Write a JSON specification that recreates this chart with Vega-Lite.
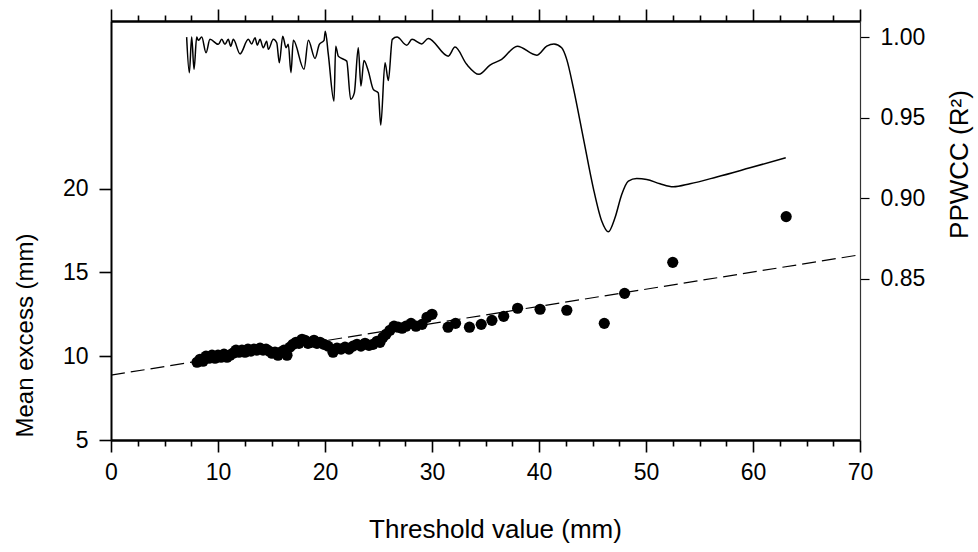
{
  "$schema": "https://vega.github.io/schema/vega-lite/v6.json",
  "width": 749,
  "height": 419,
  "autosize": "none",
  "padding": {"left": 111, "top": 21, "right": 118, "bottom": 112},
  "background": "white",
  "config": {
    "view": {"stroke": null},
    "font": "Liberation Sans",
    "axis": {
      "labelFont": "Liberation Sans",
      "titleFont": "Liberation Sans",
      "labelFontSize": 23,
      "titleFontSize": 26,
      "titleFontWeight": "normal",
      "labelColor": "black",
      "titleColor": "black",
      "domainColor": "black",
      "domainWidth": 2,
      "tickColor": "black",
      "tickWidth": 1.6,
      "grid": false
    }
  },
  "datasets": {
    "excess": [
      {"t": 8.04, "me": 9.64}, {"t": 8.32, "me": 9.82}, {"t": 8.6, "me": 9.7}, {"t": 8.88, "me": 10.0},
      {"t": 9.16, "me": 9.88}, {"t": 9.44, "me": 10.06}, {"t": 9.72, "me": 9.88}, {"t": 10.0, "me": 10.06},
      {"t": 10.28, "me": 9.94}, {"t": 10.56, "me": 10.12}, {"t": 10.84, "me": 9.94}, {"t": 11.12, "me": 10.06},
      {"t": 11.4, "me": 10.18}, {"t": 11.68, "me": 10.36}, {"t": 11.96, "me": 10.24}, {"t": 12.24, "me": 10.36},
      {"t": 12.52, "me": 10.24}, {"t": 12.8, "me": 10.42}, {"t": 13.08, "me": 10.3}, {"t": 13.36, "me": 10.42},
      {"t": 13.64, "me": 10.36}, {"t": 13.93, "me": 10.48}, {"t": 14.21, "me": 10.36}, {"t": 14.49, "me": 10.42},
      {"t": 14.77, "me": 10.3}, {"t": 15.05, "me": 10.18}, {"t": 15.33, "me": 10.24}, {"t": 15.61, "me": 10.06},
      {"t": 15.89, "me": 10.24}, {"t": 16.17, "me": 10.36}, {"t": 16.45, "me": 10.06}, {"t": 16.73, "me": 10.54},
      {"t": 17.01, "me": 10.71}, {"t": 17.29, "me": 10.83}, {"t": 17.57, "me": 10.77}, {"t": 17.85, "me": 11.01},
      {"t": 18.13, "me": 10.95}, {"t": 18.41, "me": 10.77}, {"t": 18.69, "me": 10.83}, {"t": 18.97, "me": 10.95},
      {"t": 19.25, "me": 10.77}, {"t": 19.53, "me": 10.83}, {"t": 19.91, "me": 10.71}, {"t": 20.28, "me": 10.6},
      {"t": 20.75, "me": 10.24}, {"t": 21.12, "me": 10.48}, {"t": 21.5, "me": 10.42}, {"t": 21.87, "me": 10.54},
      {"t": 22.24, "me": 10.42}, {"t": 22.62, "me": 10.6}, {"t": 22.99, "me": 10.71}, {"t": 23.36, "me": 10.6},
      {"t": 23.74, "me": 10.77}, {"t": 24.11, "me": 10.65}, {"t": 24.49, "me": 10.71}, {"t": 24.86, "me": 10.89},
      {"t": 25.14, "me": 10.83}, {"t": 25.42, "me": 11.13}, {"t": 25.7, "me": 11.31}, {"t": 26.07, "me": 11.55},
      {"t": 26.45, "me": 11.79}, {"t": 26.82, "me": 11.73}, {"t": 27.2, "me": 11.67}, {"t": 27.57, "me": 11.79},
      {"t": 28.04, "me": 11.96}, {"t": 28.5, "me": 11.79}, {"t": 29.07, "me": 11.9}, {"t": 29.53, "me": 12.32},
      {"t": 30.0, "me": 12.5}, {"t": 31.5, "me": 11.73}, {"t": 32.2, "me": 11.96}, {"t": 33.5, "me": 11.73},
      {"t": 34.6, "me": 11.9}, {"t": 35.6, "me": 12.14}, {"t": 36.7, "me": 12.38}, {"t": 38.0, "me": 12.86},
      {"t": 40.1, "me": 12.8}, {"t": 42.6, "me": 12.74}, {"t": 46.1, "me": 11.96}, {"t": 48.0, "me": 13.75},
      {"t": 52.5, "me": 15.6}, {"t": 63.1, "me": 18.33}
    ],
    "fit": [
      {"t": 0, "me": 8.87}, {"t": 70, "me": 16.05}
    ],
    "ppwcc": [
      {"t": 7.07, "r": 1.0}, {"t": 7.32, "r": 0.9779}, {"t": 7.54, "r": 1.0}, {"t": 7.76, "r": 0.98},
      {"t": 8.01, "r": 1.0}, {"t": 8.16, "r": 0.998}, {"t": 8.48, "r": 1.0}, {"t": 8.88, "r": 0.9903},
      {"t": 9.25, "r": 0.9986}, {"t": 10.03, "r": 0.9955}, {"t": 10.35, "r": 0.9986}, {"t": 10.65, "r": 0.9955},
      {"t": 10.96, "r": 0.9986}, {"t": 11.19, "r": 0.9944}, {"t": 11.43, "r": 0.9986}, {"t": 12.06, "r": 0.9896},
      {"t": 12.83, "r": 0.9986}, {"t": 13.15, "r": 0.9958}, {"t": 13.46, "r": 0.9996}, {"t": 13.67, "r": 0.995},
      {"t": 13.93, "r": 0.9986}, {"t": 14.23, "r": 0.9934}, {"t": 14.55, "r": 0.9975}, {"t": 14.7, "r": 0.9924},
      {"t": 15.17, "r": 0.9986}, {"t": 15.49, "r": 0.9965}, {"t": 15.73, "r": 0.9841}, {"t": 16.05, "r": 1.0006},
      {"t": 16.36, "r": 0.9934}, {"t": 16.57, "r": 0.9955}, {"t": 16.82, "r": 0.9779}, {"t": 17.04, "r": 0.998},
      {"t": 18.04, "r": 0.98}, {"t": 18.44, "r": 0.998}, {"t": 19.07, "r": 0.9868}, {"t": 19.47, "r": 0.9955},
      {"t": 19.91, "r": 0.998}, {"t": 20.03, "r": 1.0037}, {"t": 20.31, "r": 0.9893}, {"t": 20.84, "r": 0.9603},
      {"t": 21.0, "r": 0.9944}, {"t": 21.24, "r": 0.9882}, {"t": 21.56, "r": 0.9868}, {"t": 22.03, "r": 0.9851},
      {"t": 22.4, "r": 0.9614}, {"t": 22.74, "r": 0.9654}, {"t": 23.11, "r": 0.9934}, {"t": 23.36, "r": 0.9696},
      {"t": 23.64, "r": 0.9855}, {"t": 24.05, "r": 0.9789}, {"t": 24.51, "r": 0.9676}, {"t": 24.98, "r": 0.9654},
      {"t": 25.21, "r": 0.9454}, {"t": 25.61, "r": 0.9841}, {"t": 25.92, "r": 0.9731}, {"t": 26.29, "r": 0.9986},
      {"t": 26.73, "r": 1.0}, {"t": 27.64, "r": 0.995}, {"t": 28.13, "r": 0.9986}, {"t": 29.04, "r": 0.9958},
      {"t": 29.65, "r": 0.9992}, {"t": 31.52, "r": 0.9882}, {"t": 32.15, "r": 0.9938}, {"t": 33.24, "r": 0.9831},
      {"t": 34.39, "r": 0.9769}, {"t": 35.42, "r": 0.9826}, {"t": 36.51, "r": 0.9862}, {"t": 37.97, "r": 0.9944},
      {"t": 39.79, "r": 0.9888}, {"t": 40.72, "r": 0.9944}, {"t": 41.4, "r": 0.9958}, {"t": 42.12, "r": 0.9934},
      {"t": 42.59, "r": 0.9862}, {"t": 43.21, "r": 0.9685}, {"t": 44.14, "r": 0.9375}, {"t": 45.07, "r": 0.9065},
      {"t": 45.86, "r": 0.8859}, {"t": 46.48, "r": 0.8792}, {"t": 47.1, "r": 0.8879}, {"t": 47.73, "r": 0.9024},
      {"t": 48.35, "r": 0.9107}, {"t": 49.13, "r": 0.9123}, {"t": 50.07, "r": 0.9117}, {"t": 51.31, "r": 0.909},
      {"t": 52.55, "r": 0.9071}, {"t": 54.11, "r": 0.909}, {"t": 56.61, "r": 0.9132}, {"t": 59.72, "r": 0.9189},
      {"t": 63.06, "r": 0.9251}
    ]
  },
  "layer": [
    {
      "data": {"name": "fit"},
      "mark": {"type": "line", "color": "black", "strokeWidth": 1.2, "strokeDash": [14, 6]},
      "encoding": {
        "x": {
          "field": "t", "type": "quantitative",
          "scale": {"domain": [0, 70], "nice": false, "zero": false},
          "axis": {
            "orient": "bottom",
            "values": [2.5, 5, 7.5, 12.5, 15, 17.5, 22.5, 25, 27.5, 32.5, 35, 37.5, 42.5, 45, 47.5, 52.5, 55, 57.5, 62.5, 65, 67.5],
            "tickSize": 6,
            "labels": false,
            "title": null
          }
        },
        "y": {"field": "me", "type": "quantitative", "scale": {"domain": [5, 30], "nice": false, "zero": false}, "axis": null}
      }
    },
    {
      "data": {"name": "excess"},
      "mark": {"type": "circle", "color": "black", "opacity": 0},
      "encoding": {
        "x": {
          "field": "t", "type": "quantitative",
          "scale": {"domain": [0, 70], "nice": false, "zero": false},
          "axis": {
            "orient": "top",
            "values": [2.5, 5, 7.5, 12.5, 15, 17.5, 22.5, 25, 27.5, 32.5, 35, 37.5, 42.5, 45, 47.5, 52.5, 55, 57.5, 62.5, 65, 67.5],
            "tickSize": 6,
            "labels": false,
            "title": null
          }
        },
        "y": {"field": "me", "type": "quantitative", "scale": {"domain": [5, 30], "nice": false, "zero": false}, "axis": null}
      }
    },
    {
      "data": {"name": "excess"},
      "mark": {"type": "circle", "color": "black", "opacity": 1, "size": 125},
      "encoding": {
        "x": {
          "field": "t", "type": "quantitative",
          "scale": {"domain": [0, 70], "nice": false, "zero": false},
          "axis": {
            "orient": "bottom",
            "values": [0, 10, 20, 30, 40, 50, 60, 70],
            "tickSize": 12,
            "labelPadding": 9,
            "labelFlush": false,
            "labelOverlap": false,
            "title": "Threshold value (mm)",
            "titleX": 384,
            "titleY": 97,
            "titleAlign": "center",
            "titleBaseline": "alphabetic"
          }
        },
        "y": {
          "field": "me", "type": "quantitative",
          "scale": {"domain": [5, 30], "nice": false, "zero": false},
          "axis": {
            "orient": "left",
            "values": [5, 10, 15, 20],
            "tickSize": 12,
            "labelPadding": 11,
            "labelFlush": false,
            "title": "Mean excess (mm)",
            "titleFontSize": 24,
            "titleAngle": 270,
            "titleX": -79,
            "titleY": 314,
            "titleAlign": "center",
            "titleBaseline": "alphabetic"
          }
        }
      }
    },
    {
      "data": {"name": "ppwcc"},
      "mark": {"type": "line", "color": "black", "strokeWidth": 1.5, "interpolate": "monotone"},
      "encoding": {
        "x": {
          "field": "t", "type": "quantitative",
          "scale": {"domain": [0, 70], "nice": false, "zero": false},
          "axis": {
            "orient": "top",
            "values": [0, 10, 20, 30, 40, 50, 60, 70],
            "tickSize": 12,
            "labels": false,
            "title": null
          }
        },
        "y": {
          "field": "r", "type": "quantitative",
          "scale": {"domain": [0.75, 1.01], "nice": false, "zero": false},
          "axis": {
            "orient": "right",
            "values": [0.85, 0.9, 0.95, 1.0],
            "format": ".2f",
            "tickSize": 9,
            "tickWidth": 1.2,
            "domainWidth": 1.2,
            "domainColor": "#333",
            "labelPadding": 11,
            "labelFlush": false,
            "title": "PPWCC (R²)",
            "titleAngle": 270,
            "titleX": 107,
            "titleY": 143,
            "titleAlign": "center",
            "titleBaseline": "alphabetic"
          }
        }
      }
    }
  ],
  "resolve": {"scale": {"y": "independent"}, "axis": {"x": "independent", "y": "independent"}}
}
